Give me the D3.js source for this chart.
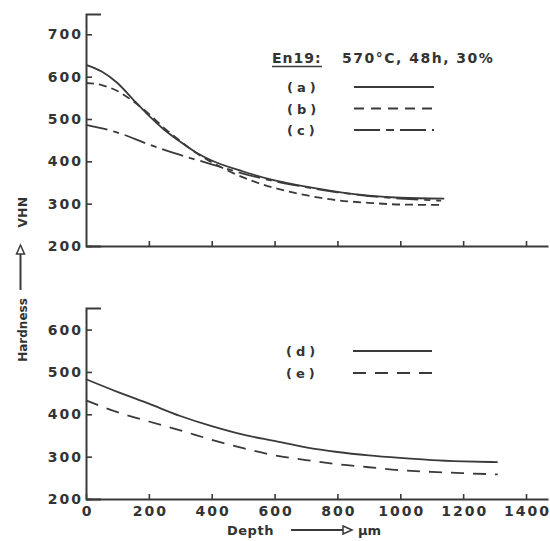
<!DOCTYPE html>
<html>
<head>
<meta charset="utf-8">
<script src="https://cdn.jsdelivr.net/npm/d3@7"></script>
<style>
  html, body { margin: 0; padding: 0; background: #fff; }
  svg { display: block; }
  text { font-family: "DejaVu Sans", sans-serif; fill: #333; font-weight: bold; }
</style>
</head>
<body>
<svg id="chart" width="550" height="541"></svg>
<script>
// Hardness–depth profiles, En19 nitrided at 570 °C for 48 h, 30 %
const depthTicks = [0, 200, 400, 600, 800, 1000, 1200, 1400];
const topHardTicks = [200, 300, 400, 500, 600, 700];
const botHardTicks = [200, 300, 400, 500, 600];

const curveA = [[0,628],[50,612],[100,585],[150,546],[200,508],[250,474],[300,446],[350,421],[400,402],[500,376],[600,355],[700,340],[800,328],[900,319],[1000,314],[1140,312]];
const curveB = [[0,585],[50,580],[100,566],[150,542],[200,512],[250,478],[300,448],[350,420],[400,398],[500,362],[600,337],[700,320],[800,308],[900,302],[1000,298],[1130,297]];
const curveC = [[0,486],[100,468],[200,440],[300,415],[400,393],[500,371],[600,353],[700,339],[800,327],[900,318],[1000,312],[1130,307]];
const curveD = [[0,483],[100,453],[200,425],[300,396],[400,372],[500,352],[600,337],[700,322],[800,311],[900,303],[1000,297],[1100,292],[1200,289],[1310,287]];
const curveE = [[0,433],[100,405],[200,383],[300,362],[400,340],[500,320],[600,303],[700,292],[800,282],[900,275],[1000,268],[1100,264],[1200,261],[1310,258]];

const topLegend = ["(a)", "(b)", "(c)"];
const botLegend = ["(d)", "(e)"];
const ink = "#3a3a3a";

const svg = d3.select("#chart");

const x = d3.scaleLinear([0, 1470], [86, 548]);
const yTop = d3.scaleLinear([200, 748], [246, 14]);
const yBot = d3.scaleLinear([200, 651], [499, 308]);

function styleAxis(g) {
  g.selectAll("path.domain").attr("stroke", ink).attr("stroke-width", 2).attr("fill", "none");
  g.selectAll(".tick line").attr("stroke", ink).attr("stroke-width", 1.6);
  g.selectAll("text")
    .attr("font-family", "DejaVu Sans, sans-serif")
    .attr("font-weight", "bold")
    .attr("font-size", 14)
    .attr("fill", "#333")
    .attr("letter-spacing", 2);
}

function panel(y, hardTicks, xLabels) {
  // x axis along the 200 VHN baseline
  const gx = svg.append("g").attr("transform", `translate(0,${y(200)})`)
    .call(d3.axisBottom(x)
      .tickValues(xLabels ? depthTicks : depthTicks.slice(1))
      .tickFormat(xLabels ? d3.format("d") : () => "")
      .tickSize(-5).tickSizeOuter(0).tickPadding(7));
  styleAxis(gx);
  gx.selectAll("text").attr("dx", 1);

  // y axis with ticks pointing inward and a cap at the top
  const gy = svg.append("g").attr("transform", `translate(${x(0)},0)`)
    .call(d3.axisLeft(y).tickValues(hardTicks).tickFormat(d3.format("d"))
      .tickSize(-6).tickSizeOuter(-15).tickPadding(3));
  styleAxis(gy);
}

panel(yTop, topHardTicks, false);
panel(yBot, botHardTicks, true);

function drawCurve(data, y, dash) {
  svg.append("path")
    .datum(data)
    .attr("fill", "none")
    .attr("stroke", ink)
    .attr("stroke-width", 1.8)
    .attr("stroke-dasharray", dash)
    .attr("d", d3.line().x(d => x(d[0])).y(d => y(d[1])).curve(d3.curveMonotoneX));
}

drawCurve(curveA, yTop, null);
drawCurve(curveB, yTop, "8,5");
drawCurve(curveC, yTop, "22,6,6,6");
drawCurve(curveD, yBot, null);
drawCurve(curveE, yBot, "13,9");

// Legends
svg.append("text").attr("x", 272).attr("y", 63)
  .attr("font-size", 14).attr("letter-spacing", 1).text("En19:");
svg.append("line").attr("x1", 272).attr("x2", 322).attr("y1", 66.5).attr("y2", 66.5)
  .attr("stroke", ink).attr("stroke-width", 1.3);
svg.append("text").attr("x", 342).attr("y", 63)
  .attr("font-size", 14).attr("letter-spacing", 1.5).text("570°C, 48h, 30%");

const topDash = [null, "10,7", "26,6,8,6"];
topLegend.forEach((lab, i) => {
  const yy = 87 + i * 21.5;
  svg.append("text").attr("x", 287).attr("y", yy + 5)
    .attr("font-size", 13).attr("letter-spacing", 4).text(lab);
  svg.append("line").attr("x1", 354).attr("x2", 434).attr("y1", yy).attr("y2", yy)
    .attr("stroke", ink).attr("stroke-width", 1.8).attr("stroke-dasharray", topDash[i]);
});

const botDash = [null, "13,9"];
botLegend.forEach((lab, i) => {
  const yy = 351 + i * 22;
  svg.append("text").attr("x", 286).attr("y", yy + 5)
    .attr("font-size", 13).attr("letter-spacing", 4).text(lab);
  svg.append("line").attr("x1", 353).attr("x2", 432).attr("y1", yy).attr("y2", yy)
    .attr("stroke", ink).attr("stroke-width", 1.8).attr("stroke-dasharray", botDash[i]);
});

// Y label: "Hardness ——▷ VHN" reading bottom to top
svg.append("text").attr("transform", "translate(27,330) rotate(-90)")
  .attr("text-anchor", "middle").attr("font-size", 12).text("Hardness");
svg.append("text").attr("transform", "translate(27,212) rotate(-90)")
  .attr("text-anchor", "middle").attr("font-size", 12).attr("letter-spacing", 0.5).text("VHN");
svg.append("line").attr("x1", 20.5).attr("x2", 20.5).attr("y1", 290).attr("y2", 254)
  .attr("stroke", ink).attr("stroke-width", 2);
svg.append("path").attr("d", "M20.5,245 L16.5,254 L24.5,254 Z")
  .attr("fill", "#fff").attr("stroke", ink).attr("stroke-width", 1.5);

// X label: "Depth ——▷ µm"
svg.append("text").attr("x", 227).attr("y", 535)
  .attr("font-size", 13).attr("letter-spacing", 0.5).text("Depth");
svg.append("line").attr("x1", 291).attr("x2", 343).attr("y1", 530).attr("y2", 530)
  .attr("stroke", ink).attr("stroke-width", 1.8);
svg.append("path").attr("d", "M352,530 L343,526 L343,534 Z")
  .attr("fill", "#fff").attr("stroke", ink).attr("stroke-width", 1.5);
svg.append("text").attr("x", 358).attr("y", 535)
  .attr("font-size", 13).text("µm");
</script>
</body>
</html>
